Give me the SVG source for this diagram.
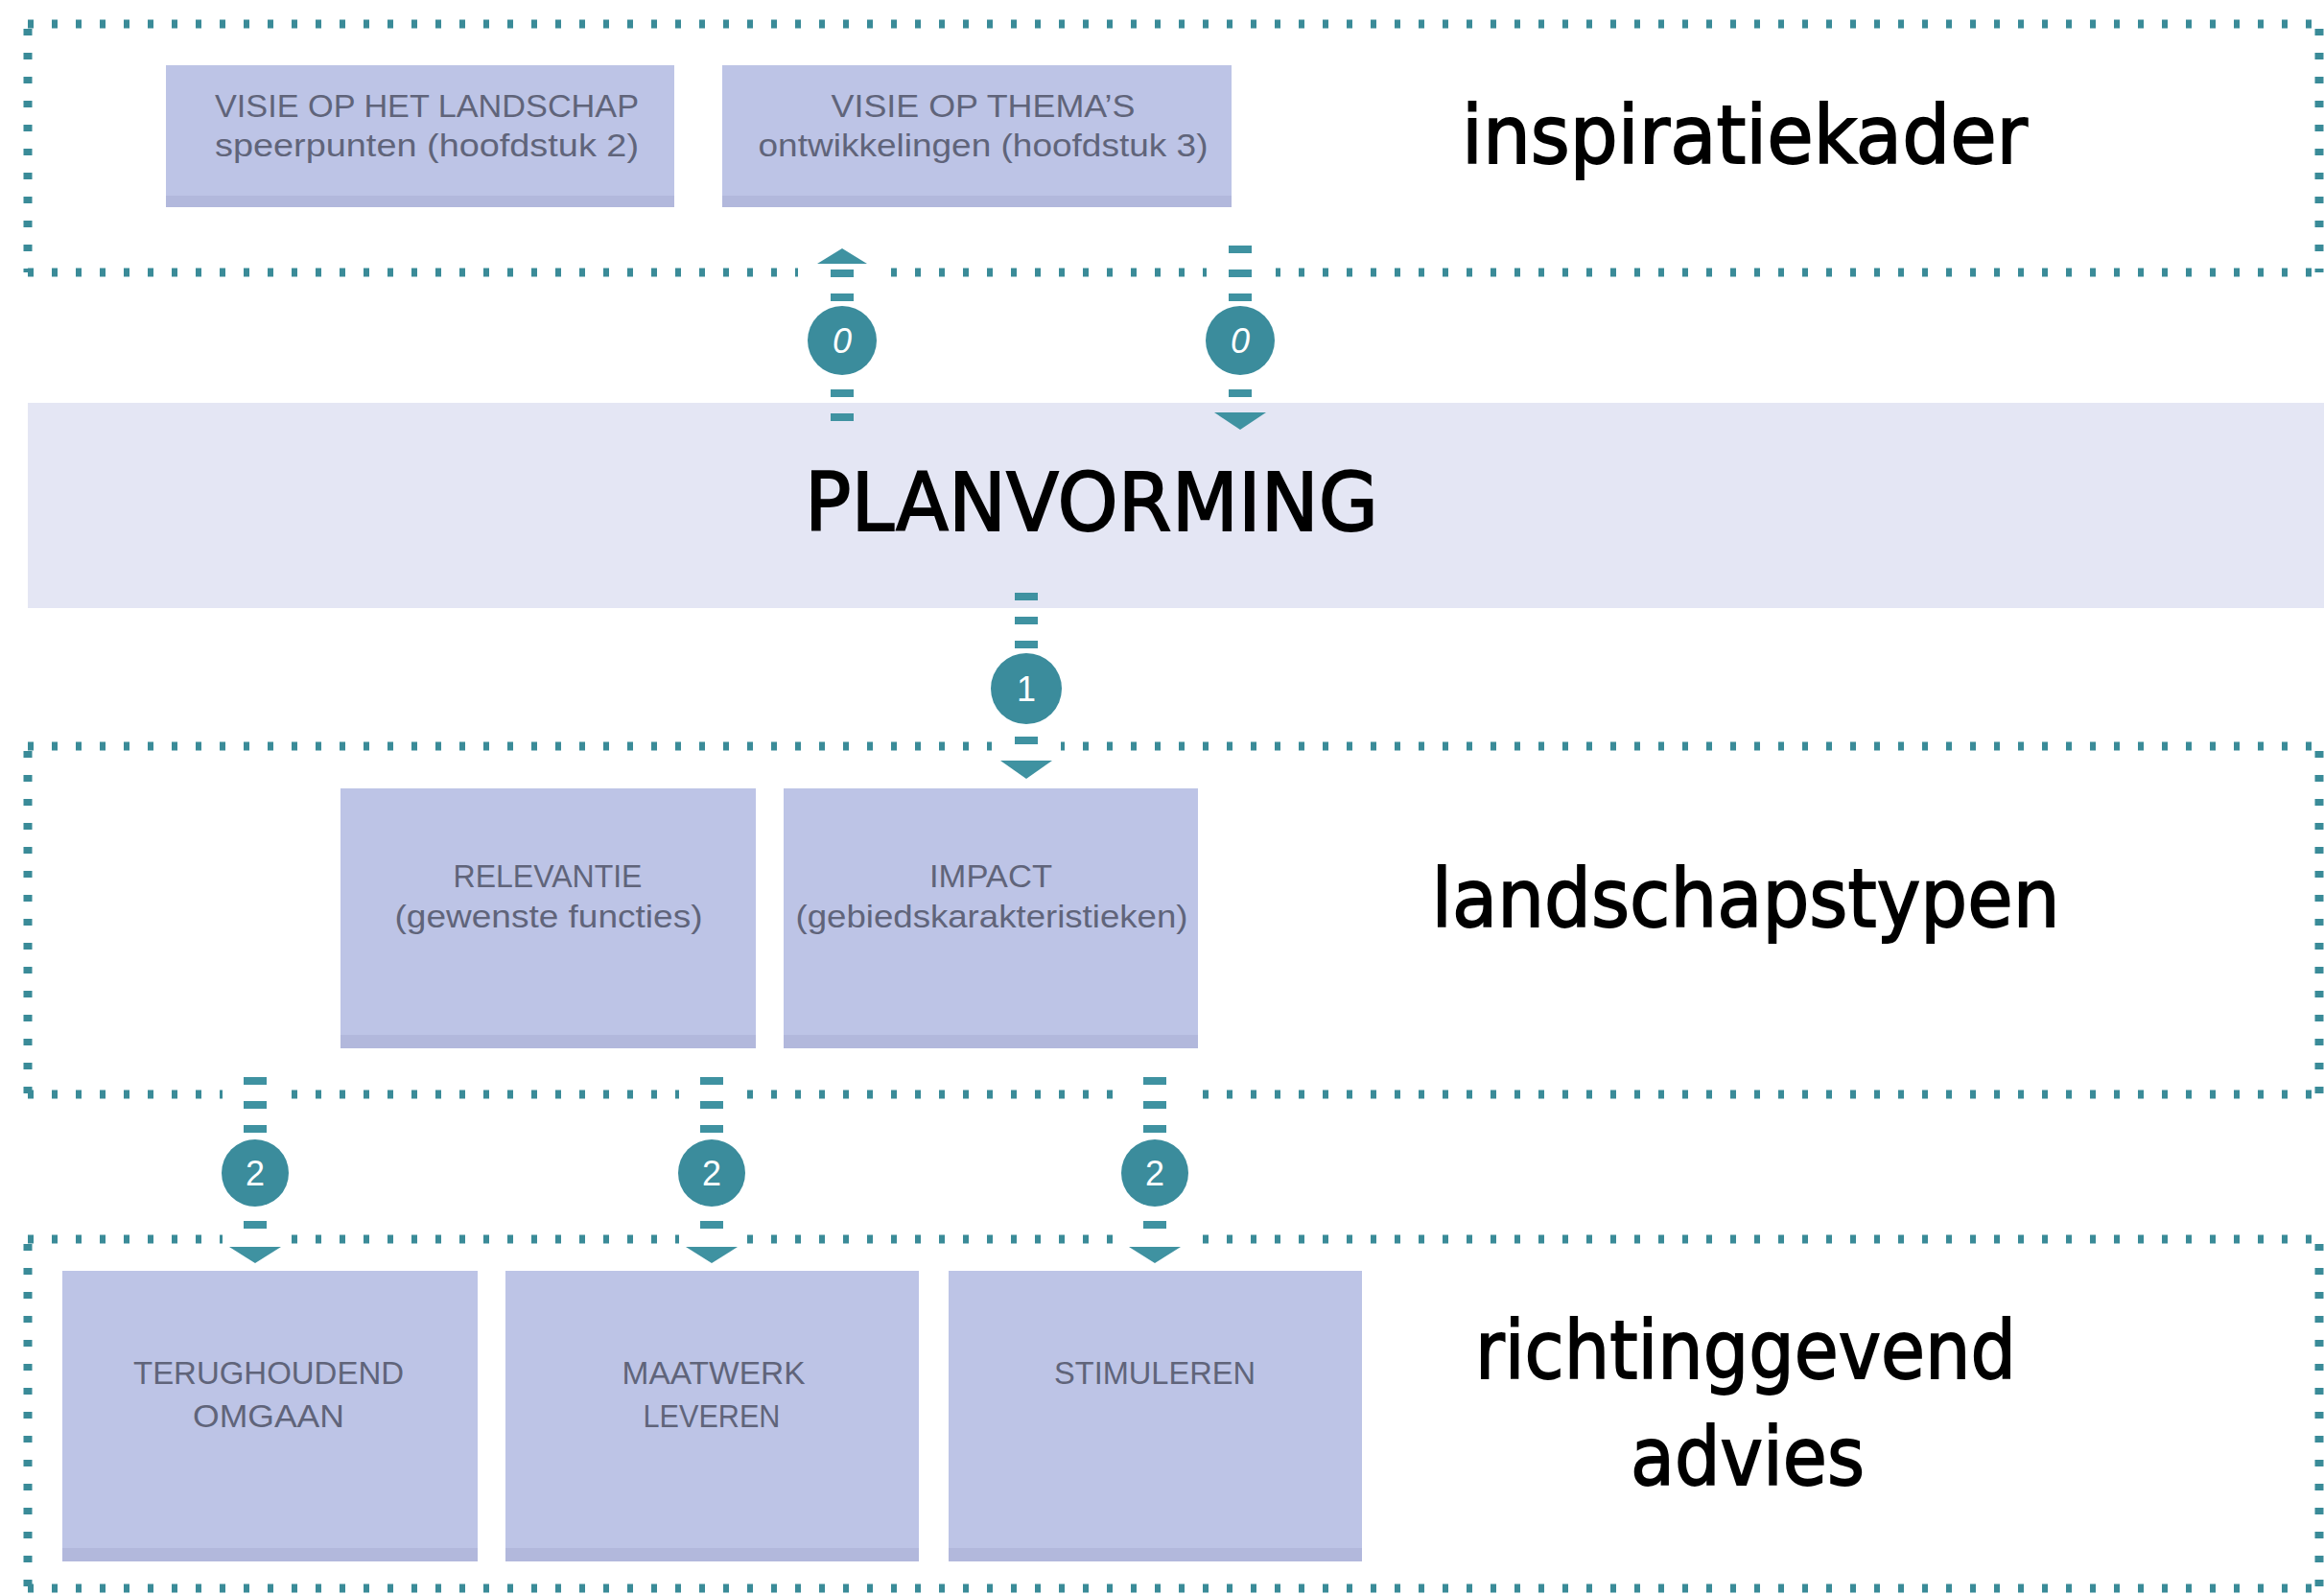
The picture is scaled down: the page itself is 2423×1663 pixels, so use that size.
<svg xmlns="http://www.w3.org/2000/svg" width="2423" height="1663" viewBox="0 0 2423 1663">
<style>
.hd{fill:none;stroke:#3a8b98;stroke-width:9;stroke-dasharray:6 19}
.vd{fill:none;stroke:#3a8b98;stroke-width:9;stroke-dasharray:7 18}
.box{fill:#bdc4e6}
.boxb{fill:#b2b8dc}
.bt{font-family:"Liberation Sans",Arial,sans-serif;font-size:34px;fill:#60647a;text-anchor:middle}
.lbl{font-family:"DejaVu Sans","Liberation Sans",sans-serif;font-size:84px;fill:#000;stroke:#000;stroke-width:1.8px;text-anchor:middle}
.cn{fill:none;stroke:#3f92a1;stroke-width:24;stroke-dasharray:8 17}
.ah{fill:#3f92a1}
.cc{fill:#3b8c9c}
.ct{font-family:"Liberation Sans",Arial,sans-serif;font-size:36px;fill:#fff;text-anchor:middle}
.gap{fill:#fff}
</style>
<rect width="2423" height="1663" fill="#fff"/>
<g id="frames">
<line class="hd" x1="29" y1="25" x2="2420" y2="25"/>
<line class="hd" x1="29" y1="284" x2="2420" y2="284"/>
<line class="vd" x1="29" y1="30" x2="29" y2="284"/>
<line class="vd" x1="2418" y1="30" x2="2418" y2="284"/>
<line class="hd" x1="29" y1="778" x2="2420" y2="778"/>
<line class="hd" x1="29" y1="1141" x2="2420" y2="1141"/>
<line class="vd" x1="29" y1="783" x2="29" y2="1141"/>
<line class="vd" x1="2418" y1="783" x2="2418" y2="1141"/>
<line class="hd" x1="29" y1="1292" x2="2420" y2="1292"/>
<line class="hd" x1="29" y1="1656" x2="2420" y2="1656"/>
<line class="vd" x1="29" y1="1297" x2="29" y2="1656"/>
<line class="vd" x1="2418" y1="1297" x2="2418" y2="1656"/>
</g>
<g id="planvorming">
<rect x="29" y="420" width="2394" height="214" fill="#e4e6f4"/>
<text class="lbl" x="1138" y="553" font-size="88" textLength="598" lengthAdjust="spacingAndGlyphs">PLANVORMING</text>
</g>
<g id="label-inspiratiekader"><text class="lbl" x="1819" y="170" textLength="590" lengthAdjust="spacingAndGlyphs">inspiratiekader</text></g>
<g id="label-landschapstypen"><text class="lbl" x="1820" y="966" textLength="655" lengthAdjust="spacingAndGlyphs">landschapstypen</text></g>
<g id="label-richtinggevend"><text class="lbl" x="1820" y="1437" textLength="564" lengthAdjust="spacingAndGlyphs">richtinggevend</text><text class="lbl" x="1822" y="1548" textLength="244" lengthAdjust="spacingAndGlyphs">advies</text></g>
<g id="visie-landschap">
<rect class="box" x="173" y="68" width="530" height="148"/><rect class="boxb" x="173" y="204" width="530" height="12"/>
<text class="bt" x="445" y="122" textLength="442" lengthAdjust="spacingAndGlyphs">VISIE OP HET LANDSCHAP</text>
<text class="bt" x="445" y="163" textLength="442" lengthAdjust="spacingAndGlyphs">speerpunten (hoofdstuk 2)</text>
</g>
<g id="visie-themas">
<rect class="box" x="753" y="68" width="531" height="148"/><rect class="boxb" x="753" y="204" width="531" height="12"/>
<text class="bt" x="1025" y="122" textLength="317" lengthAdjust="spacingAndGlyphs">VISIE OP THEMA’S</text>
<text class="bt" x="1025" y="163" textLength="469" lengthAdjust="spacingAndGlyphs">ontwikkelingen (hoofdstuk 3)</text>
</g>
<g id="relevantie">
<rect class="box" x="355" y="822" width="433" height="271"/><rect class="boxb" x="355" y="1079" width="433" height="14"/>
<text class="bt" x="571" y="925" textLength="197" lengthAdjust="spacingAndGlyphs">RELEVANTIE</text>
<text class="bt" x="572" y="967" textLength="321" lengthAdjust="spacingAndGlyphs">(gewenste functies)</text>
</g>
<g id="impact">
<rect class="box" x="817" y="822" width="432" height="271"/><rect class="boxb" x="817" y="1079" width="432" height="14"/>
<text class="bt" x="1033" y="925" textLength="128" lengthAdjust="spacingAndGlyphs">IMPACT</text>
<text class="bt" x="1034" y="967" textLength="409" lengthAdjust="spacingAndGlyphs">(gebiedskarakteristieken)</text>
</g>
<g id="terughoudend">
<rect class="box" x="65" y="1325" width="433" height="303"/><rect class="boxb" x="65" y="1614" width="433" height="14"/>
<text class="bt" x="280" y="1443" textLength="282" lengthAdjust="spacingAndGlyphs">TERUGHOUDEND</text>
<text class="bt" x="280" y="1488" textLength="158" lengthAdjust="spacingAndGlyphs">OMGAAN</text>
</g>
<g id="maatwerk">
<rect class="box" x="527" y="1325" width="431" height="303"/><rect class="boxb" x="527" y="1614" width="431" height="14"/>
<text class="bt" x="744" y="1443" textLength="191" lengthAdjust="spacingAndGlyphs">MAATWERK</text>
<text class="bt" x="742" y="1488" textLength="143" lengthAdjust="spacingAndGlyphs">LEVEREN</text>
</g>
<g id="stimuleren">
<rect class="box" x="989" y="1325" width="431" height="303"/><rect class="boxb" x="989" y="1614" width="431" height="14"/>
<text class="bt" x="1204" y="1443" textLength="210" lengthAdjust="spacingAndGlyphs">STIMULEREN</text>
</g>
<g id="connectors">
<rect class="gap" x="832" y="276" width="92" height="16"/>
<rect class="gap" x="1258" y="276" width="72" height="16"/>
<rect class="gap" x="1034" y="770" width="72" height="16"/>
<rect class="gap" x="232" y="1133" width="68" height="16"/>
<rect class="gap" x="708" y="1133" width="68" height="16"/>
<rect class="gap" x="1170" y="1133" width="68" height="16"/>
<rect class="gap" x="232" y="1284" width="68" height="16"/>
<rect class="gap" x="708" y="1284" width="68" height="16"/>
<rect class="gap" x="1170" y="1284" width="68" height="16"/>
<line class="cn" x1="878" y1="281" x2="878" y2="441"/>
<polygon class="ah" points="852,275 904,275 878,259"/>
<circle class="cc" cx="878" cy="355" r="36"/>
<text class="ct" x="878" y="368" font-style="italic">0</text>
<line class="cn" x1="1293" y1="256" x2="1293" y2="416"/>
<polygon class="ah" points="1266,430 1320,430 1293,448"/>
<circle class="cc" cx="1293" cy="355" r="36"/>
<text class="ct" x="1293" y="368" font-style="italic">0</text>
<line class="cn" x1="1070" y1="618" x2="1070" y2="777"/>
<polygon class="ah" points="1043,793 1097,793 1070,812"/>
<circle class="cc" cx="1070" cy="718" r="37"/>
<text class="ct" x="1070" y="731">1</text>
<line class="cn" x1="266" y1="1123" x2="266" y2="1282"/>
<polygon class="ah" points="239,1300 293,1300 266,1317"/>
<circle class="cc" cx="266" cy="1223" r="35"/>
<text class="ct" x="266" y="1236">2</text>
<line class="cn" x1="742" y1="1123" x2="742" y2="1282"/>
<polygon class="ah" points="715,1300 769,1300 742,1317"/>
<circle class="cc" cx="742" cy="1223" r="35"/>
<text class="ct" x="742" y="1236">2</text>
<line class="cn" x1="1204" y1="1123" x2="1204" y2="1282"/>
<polygon class="ah" points="1177,1300 1231,1300 1204,1317"/>
<circle class="cc" cx="1204" cy="1223" r="35"/>
<text class="ct" x="1204" y="1236">2</text>
</g>
</svg>
